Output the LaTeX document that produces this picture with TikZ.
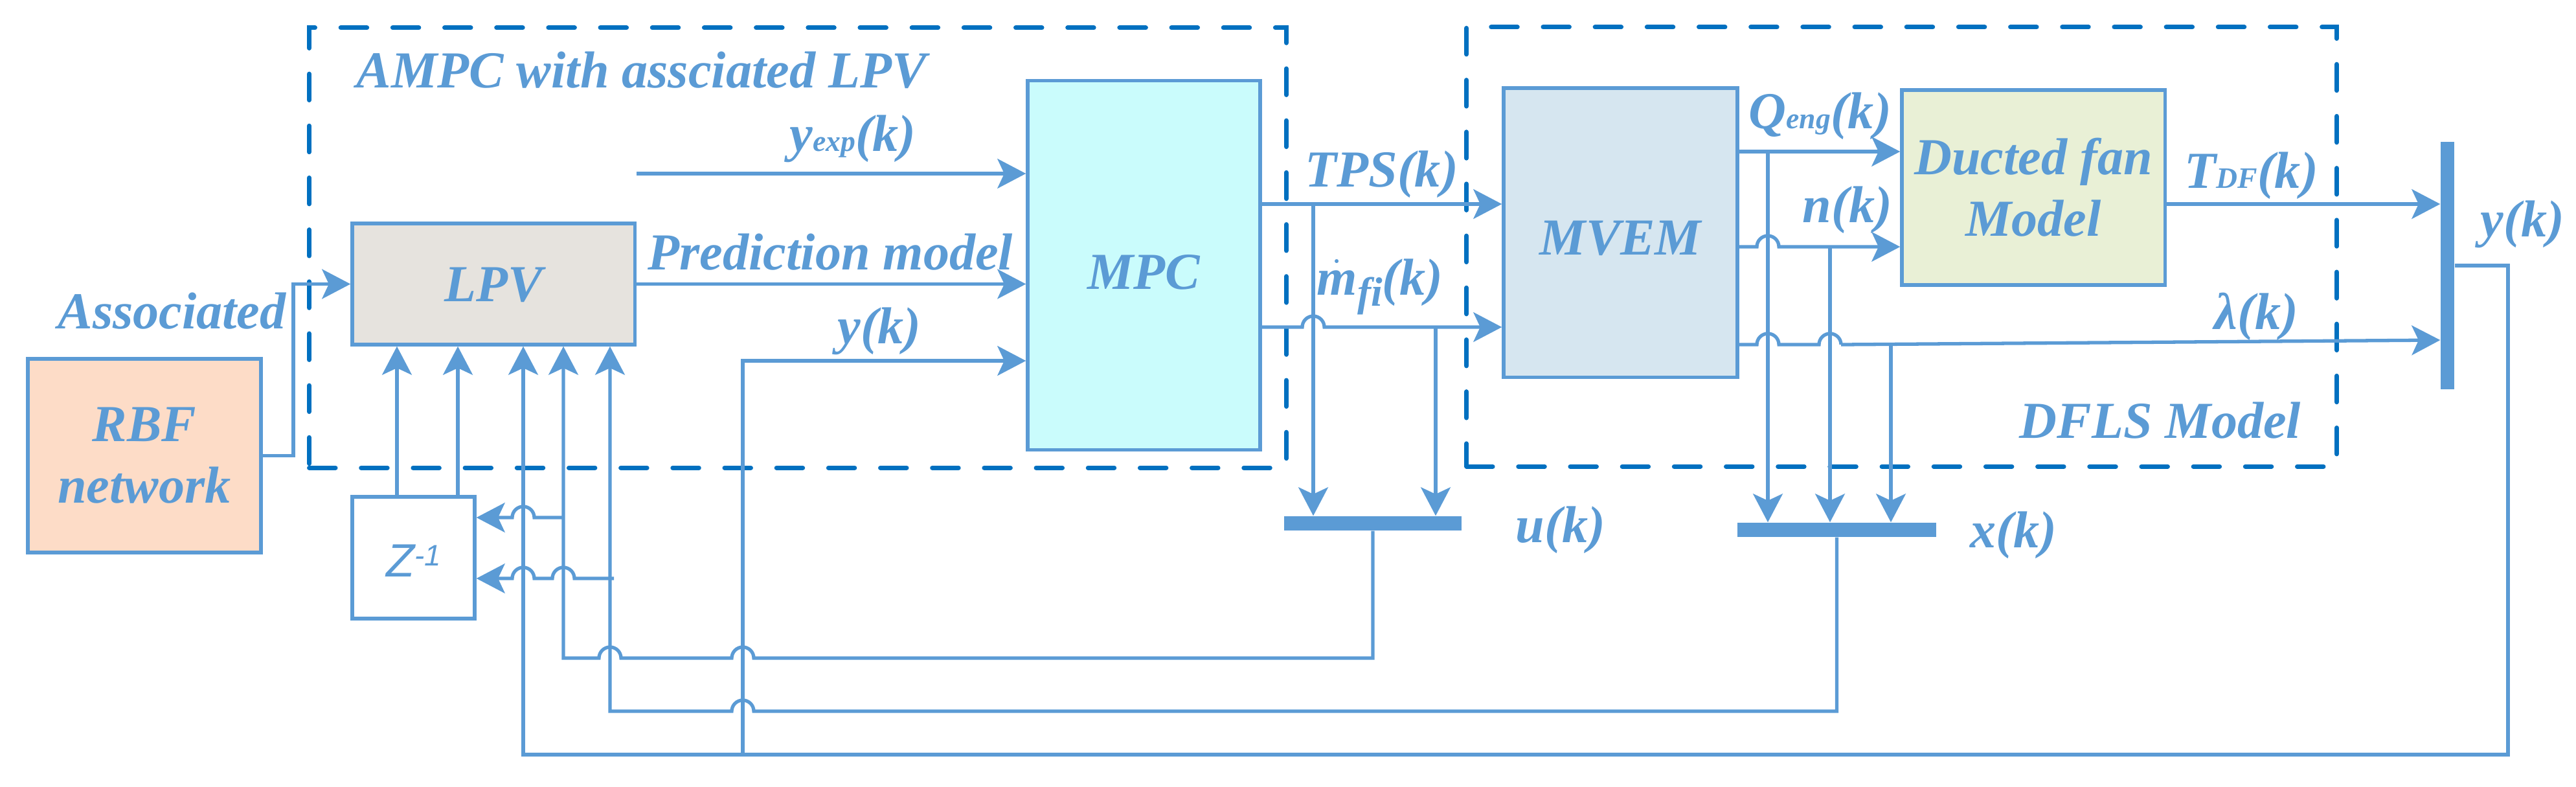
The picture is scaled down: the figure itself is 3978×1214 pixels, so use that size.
\documentclass[tikz,border=0pt]{standalone}
\usepackage{fontspec}
\setmainfont{Liberation Serif}
\newfontfamily\zfont{Liberation Sans}
\usetikzlibrary{arrows.meta}
\definecolor{cl}{HTML}{5B9BD5}
\definecolor{cd}{HTML}{0070C0}
\definecolor{fLPV}{HTML}{E6E3DE}
\definecolor{fMPC}{HTML}{CAFCFC}
\definecolor{fMVEM}{HTML}{D6E6F0}
\definecolor{fDF}{HTML}{E9F0D6}
\definecolor{fRBF}{HTML}{FDDCC7}
\newcommand\lbfont{\fontsize{22.8}{27}\selectfont\bfseries\itshape}
\newcommand\smtxt[1]{{\fontsize{13}{13}\selectfont#1}}
\begin{document}
\begin{tikzpicture}[x=0.01cm,y=-0.01cm,
  blk/.style={draw=cl, line width=1.5pt, inner sep=0pt, font=\lbfont, text=cl},
  busbar/.style={fill=cl, draw=none, inner sep=0pt},
  dashbox/.style={draw=cd, line width=2pt, dash pattern=on 11.5pt off 11.3pt, line cap=round, inner sep=0pt},
  ln/.style={draw=cl, line width=1.5pt},
  arr/.style={ln, -{Stealth[length=12.5pt,width=13pt,inset=3pt]}},
  lbl/.style={text=cl, font=\lbfont, inner sep=0pt}]
\useasboundingbox (0,0) rectangle (3978,1214);
% containers
\node[dashbox, minimum width=15.08cm, minimum height=6.79cm] (ampc) at (1232,382.5) {};
\node[dashbox, minimum width=13.43cm, minimum height=6.78cm] (dfls) at (2936.5,381) {};
% blocks
\node[blk, fill=fLPV, minimum width=4.36cm, minimum height=1.87cm, text height=0.53cm, text depth=0cm] (lpv) at (762,438.5) {LPV};
\node[blk, fill=fMPC, minimum width=3.59cm, minimum height=5.69cm, text height=0.73cm, text depth=0cm] (mpc) at (1766.5,409.5) {MPC};
\node[blk, fill=fMVEM, minimum width=3.61cm, minimum height=4.46cm, text height=0.68cm, text depth=0cm] (mvem) at (2502.5,359) {MVEM};
\node[blk, fill=fDF, minimum width=4.06cm, minimum height=3.01cm, align=center] (ducted) at (3140,289.5) {Ducted fan\\Model};
\node[blk, fill=fRBF, minimum width=3.60cm, minimum height=2.99cm, align=center] (rbf) at (223,703.5) {RBF\\network};
\node[blk, fill=white, minimum width=1.89cm, minimum height=1.88cm, text height=0.58cm, text depth=0cm, font=\zfont\itshape\fontsize{20.5}{24}\selectfont] (zbox) at (638.5,861) {Z\raisebox{4.8pt}{\fontsize{13}{13}\selectfont -1}};
% buses
\node[busbar, minimum width=2.74cm, minimum height=0.22cm] (ubus) at (2120,808) {};
\node[busbar, minimum width=3.07cm, minimum height=0.22cm] (xbus) at (2836.5,818) {};
\node[busbar, minimum width=0.21cm, minimum height=3.82cm] (ybus) at (3779.5,410) {};
% helper coordinates
\coordinate (bend) at (453,703.5);
\coordinate (yexpin) at (983,268);
\coordinate (tpsT) at (2028,315);
\coordinate (mfT) at (2217,505);
\coordinate (qT) at (2730,234);
\coordinate (nT) at (2826,381);
\coordinate (lT) at (2920,531);
\coordinate (ycorner) at (3873,1165);
\coordinate (ybl) at (808,1165);
\coordinate (yb) at (1147,1165);
\coordinate (ucol) at (870,1016);
\coordinate (xcol) at (942,1098);
% connectors
\draw[arr] (rbf.east) -- (bend) |- (lpv.west);
\draw[arr] (lpv.east) -- (mpc.west |- lpv.east);
\draw[arr] (yexpin) -- (mpc.west |- yexpin);
\draw[arr] (yb) |- (mpc.west |- 0,557);
\draw[arr] (mpc.east |- tpsT) -- (mvem.west |- tpsT);
\draw[arr] (mpc.east |- mfT) -- (2011,505) arc[start angle=180,end angle=0,radius=0.17cm] -- (mvem.west |- mfT);
\draw[arr] (tpsT) -- (tpsT |- ubus.north);
\draw[arr] (mfT) -- (mfT |- ubus.north);
\draw[arr] (mvem.east |- qT) -- (ducted.west |- qT);
\draw[arr] (mvem.east |- nT) -- (2713,381) arc[start angle=180,end angle=0,radius=0.17cm] -- (ducted.west |- nT);
\draw[arr] (mvem.east |- 0,532) -- (2713,532) arc[start angle=180,end angle=0,radius=0.17cm] -- (2809,532) arc[start angle=180,end angle=0,radius=0.17cm] -- (2843,532) -- (ybus.west |- 0,525);
\draw[arr] (qT) -- (qT |- xbus.north);
\draw[arr] (nT) -- (nT |- xbus.north);
\draw[arr] (lT) -- (lT |- xbus.north);
\draw[arr] (ducted.east |- tpsT) -- (ybus.west |- tpsT);
\draw[arr] (ybus.east |- 0,410) -| (ycorner) -- (ybl) -- (ybl |- lpv.south);
\draw[arr] (ubus.south) |- (1164,1016) arc[start angle=0,end angle=180,radius=0.17cm] -- (959,1016) arc[start angle=0,end angle=180,radius=0.17cm] -- (ucol) -- (ucol |- lpv.south);
\draw[arr] (xbus.south) |- (1164,1098) arc[start angle=0,end angle=180,radius=0.17cm] -- (xcol) -- (xcol |- lpv.south);
\draw[arr] (870,799) -- (825,799) arc[start angle=0,end angle=180,radius=0.17cm] -- (zbox.east |- 0,799);
\draw[arr] (948,893) -- (887,893) arc[start angle=0,end angle=180,radius=0.17cm] -- (825,893) arc[start angle=0,end angle=180,radius=0.17cm] -- (zbox.east |- 0,893);
\draw[arr] ([xshift=-0.255cm]zbox.north) -- ([xshift=-0.255cm]zbox.north |- lpv.south);
\draw[arr] ([xshift=0.685cm]zbox.north) -- ([xshift=0.685cm]zbox.north |- lpv.south);
% labels
\node[lbl, anchor=base west] (tampc) at (550,135) {AMPC with assciated LPV};
\node[lbl, anchor=base] (tyexp) at (1317,233) {y\smtxt{exp}(k)};
\node[lbl, anchor=base west] (tpred) at (1000,416) {Prediction model};
\node[lbl, anchor=base] (tyk1) at (1358,530) {y(k)};
\node[lbl, anchor=base west] (ttps) at (2015,288) {TPS(k)};
\node[lbl, anchor=base west] (tmf) at (2033,455) {$\dot{\hbox{\lbfont m}}$\raisebox{-5pt}{\fontsize{18}{18}\selectfont fi}(k)};
\node[lbl, anchor=base west] (tu) at (2340,837) {u(k)};
\node[lbl, anchor=base west] (tx) at (3042,845) {x(k)};
\node[lbl, anchor=base west] (tq) at (2700,198) {Q\smtxt{eng}(k)};
\node[lbl, anchor=base west] (tn) at (2783,343) {n(k)};
\node[lbl, anchor=base west] (ttdf) at (3373,290) {T\smtxt{DF}(k)};
\node[lbl, anchor=base west] (tlam) at (3419,508) {λ(k)};
\node[lbl, anchor=base west] (tyk2) at (3830,365) {y(k)};
\node[lbl, anchor=base west] (tdfls) at (3118,676) {DFLS Model};
\node[lbl, anchor=base west] (tassoc) at (89,507) {Associated};
\end{tikzpicture}
\end{document}
